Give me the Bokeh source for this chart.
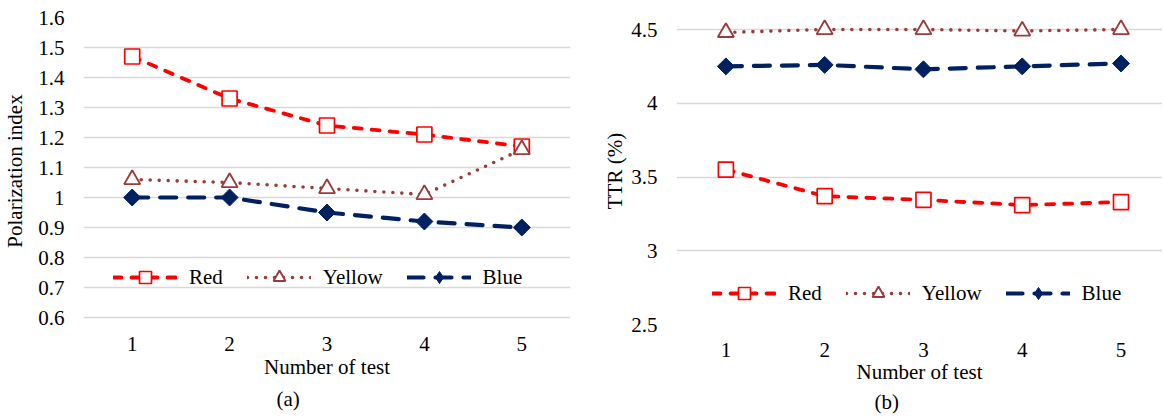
import math
from bokeh.plotting import figure
from bokeh.layouts import row
from bokeh.models import (FixedTicker, CustomJSTickFormatter, Legend, LegendItem,
                          Title, Range1d)
from bokeh.embed import file_html
from bokeh.resources import INLINE

# ---------------- data ----------------
tests = [1, 2, 3, 4, 5]
series_names = ["Red", "Yellow", "Blue"]

pi_red = [1.47, 1.33, 1.24, 1.21, 1.17]
pi_yellow = [1.06, 1.05, 1.03, 1.01, 1.16]
pi_blue = [1.00, 1.00, 0.95, 0.92, 0.90]

ttr_red = [3.55, 3.37, 3.345, 3.31, 3.33]
ttr_yellow = [4.48, 4.50, 4.50, 4.49, 4.50]
ttr_blue = [4.25, 4.26, 4.23, 4.25, 4.27]

pi_ticks = [0.6, 0.7, 0.8, 0.9, 1, 1.1, 1.2, 1.3, 1.4, 1.5, 1.6]
ttr_ticks = [2.5, 3, 3.5, 4, 4.5]
x_ticks = [1, 2, 3, 4, 5]

x_title = "Number of test"
y_title_a = "Polarization index"
y_title_b = "TTR (%)"
caption_a = "(a)"
caption_b = "(b)"

# ---------------- style ----------------
FONT = "Liberation Serif"
FS = "21px"
RED = "#FF0000"
BROWN = "#9A3B3B"
NAVY = "#002060"
GRID = "#D9D9D9"


def make_panel(red, yellow, blue, ylab, yr, yticks, xr, caption, width,
               mb, ylab_standoff, xtick_standoff, xlab_standoff, cap_offset,
               cap_standoff, legend_loc):
    p = figure(width=width, height=417, x_range=Range1d(*xr), y_range=Range1d(*yr),
               output_backend="svg", toolbar_location=None,
               min_border_left=mb[0], min_border_right=mb[1],
               min_border_top=mb[2], min_border_bottom=mb[3])
    p.outline_line_color = None
    p.background_fill_color = "white"
    p.border_fill_color = "white"

    # axes
    p.xaxis.ticker = FixedTicker(ticks=x_ticks)
    p.yaxis.ticker = FixedTicker(ticks=yticks)
    p.yaxis.formatter = CustomJSTickFormatter(code="return tick.toString()")
    for ax in (p.xaxis[0], p.yaxis[0]):
        ax.axis_line_color = None
        ax.major_tick_line_color = None
        ax.minor_tick_line_color = None
        ax.major_tick_out = 0
        ax.major_tick_in = 0
        ax.minor_tick_out = 0
        ax.minor_tick_in = 0
        ax.major_label_text_font = FONT
        ax.major_label_text_font_size = FS
        ax.major_label_text_color = "black"
        ax.axis_label_text_font = FONT
        ax.axis_label_text_font_size = FS
        ax.axis_label_text_font_style = "normal"
        ax.axis_label_text_color = "black"
    p.xaxis.axis_label = x_title
    p.yaxis.axis_label = ylab
    p.yaxis.major_label_standoff = 19
    p.yaxis.axis_label_standoff = ylab_standoff
    p.xaxis.major_label_standoff = xtick_standoff
    p.xaxis.axis_label_standoff = xlab_standoff

    p.xgrid.grid_line_color = None
    p.ygrid.grid_line_color = GRID
    p.ygrid.grid_line_width = 1.5

    # series
    lr = p.line(tests, red, line_color=RED, line_width=3.8, line_dash="8 10",
                line_cap="round")
    sr = p.scatter(tests, red, marker="square", size=15, fill_color="white",
                   line_color=RED, line_width=1.7)
    ly = p.line(tests, yellow, line_color=BROWN, line_width=3.6, line_dash="0 9",
                line_cap="round")
    sy = p.scatter(tests, yellow, marker="triangle", size=16, fill_color="white",
                   line_color=BROWN, line_width=1.9)
    lb = p.line(tests, blue, line_color=NAVY, line_width=4.2, line_dash="16 12",
                line_cap="round")
    sb = p.scatter(tests, blue, marker="square", size=12, angle=math.pi / 4,
                   fill_color=NAVY, line_color=NAVY, line_width=1)
    # legend-only diamond sample (kept outside the visible range)
    sb_leg = p.scatter([-100], [yr[0] - 100], marker="diamond", size=12,
                       fill_color=NAVY, line_color=NAVY, line_width=1)

    legend = Legend(items=[
        LegendItem(label=series_names[0], renderers=[lr, sr]),
        LegendItem(label=series_names[1], renderers=[ly, sy]),
        LegendItem(label=series_names[2], renderers=[lb, sb_leg]),
    ], orientation="horizontal", location=legend_loc)
    legend.border_line_color = None
    legend.background_fill_alpha = 0
    legend.padding = 0
    legend.margin = 0
    legend.spacing = 24
    legend.glyph_width = 64
    legend.glyph_height = 30
    legend.label_standoff = 12
    legend.label_text_font = FONT
    legend.label_text_font_size = FS
    legend.label_text_color = "black"
    p.add_layout(legend, "center")

    cap = Title(text=caption, align="left", offset=cap_offset, standoff=cap_standoff,
                text_font=FONT, text_font_size=FS, text_font_style="normal",
                text_color="black")
    p.add_layout(cap, "below")
    return p


pa = make_panel(pi_red, pi_yellow, pi_blue, y_title_a, (0.6 - 7 / 300, 1.6), pi_ticks,
                (0.5, 5.5), caption_a, 580, (82, 10, 17, 93), 8, 12, 1, 193, 7,
                (30, 32))
pb = make_panel(ttr_red, ttr_yellow, ttr_blue, y_title_b, (2.5, 4.5 + 12 / 147.5),
                ttr_ticks, (0.5, 5.42), caption_b, 582, (96, 0, 17, 93), 1, 18, 0,
                198, 3, (36, 16))

layout = row(pa, pb)
open("out.html", "w").write(file_html(layout, INLINE))
